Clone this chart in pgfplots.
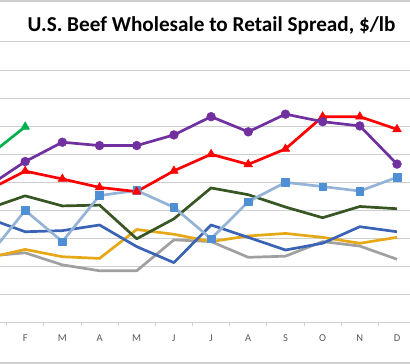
\documentclass[border=0pt]{standalone}
\usepackage{pgfplots}
\pgfplotsset{compat=1.18}
\usepackage{fontspec}
\setmainfont{Carlito}
\definecolor{cpurple}{HTML}{7030A0}
\definecolor{cred}{HTML}{FF0000}
\definecolor{cgreen}{HTML}{00B050}
\definecolor{cdkgreen}{HTML}{375623}
\definecolor{cltblue}{HTML}{95B3D7}
\definecolor{cltbluem}{HTML}{4F8FD6}
\definecolor{cblue}{HTML}{3B63B5}
\definecolor{cyellow}{HTML}{E6A817}
\definecolor{cgray}{HTML}{A0A0A0}
\definecolor{cgrid}{HTML}{CFCFCF}
\definecolor{ctick}{HTML}{595959}
\begin{document}
\begin{tikzpicture}
\path[use as bounding box] (0pt,0pt) rectangle (410pt,364pt);
\clip (0pt,0pt) rectangle (410pt,364pt);
\begin{axis}[
  at={(-30.6pt,41.3pt)}, anchor=south west,
  scale only axis, width=446.2pt, height=280.7pt,
  xmin=-0.5, xmax=11.5, ymin=0, ymax=10,
  separate axis lines,
  axis x line*=bottom, axis y line*=left,
  y axis line style={draw=none},
  x axis line style={draw=cgrid, line width=1pt},
  xtick={1,...,11},
  xticklabels={F,M,A,M,J,J,A,S,O,N,D},
  major x tick style={draw=none},
  minor xtick={-0.5,0.5,...,11.5},
  minor tick length=3pt,
  minor x tick style={draw=cgrid, line width=0.8pt},
  tick align=outside,
  xticklabel style={font=\fontsize{10.5}{12}\selectfont, text=ctick, yshift=-4pt},
  ytick={1,...,10}, yticklabels={},
  major y tick style={draw=none},
  ymajorgrids, grid style={draw=cgrid, line width=1pt},
  clip=false,
  every axis plot/.append style={line width=2.7pt, line join=round},
]
% gray
\addplot[cgray, no markers] coordinates {(0,2.37)(1,2.49)(2,2.06)(3,1.85)(4,1.85)(5,2.95)(6,2.89)(7,2.33)(8,2.37)(9,2.89)(10,2.73)(11,2.26)};
% yellow
\addplot[cyellow, no markers] coordinates {(0,2.31)(1,2.61)(2,2.35)(3,2.29)(4,3.32)(5,3.15)(6,2.89)(7,3.09)(8,3.18)(9,3.04)(10,2.83)(11,3.04)};
% blue
\addplot[cblue, no markers] coordinates {(0,3.72)(1,3.24)(2,3.28)(3,3.48)(4,2.71)(5,2.14)(6,3.48)(7,3.04)(8,2.59)(9,2.83)(10,3.42)(11,3.24)};
% dark green
\addplot[cdkgreen, no markers] coordinates {(0,4.06)(1,4.52)(2,4.16)(3,4.19)(4,2.99)(5,3.70)(6,4.80)(7,4.56)(8,4.12)(9,3.74)(10,4.14)(11,4.06)};
% light blue squares
\addplot[cltblue, mark=square*, mark size=3.8pt, mark options={fill=cltbluem, draw=cltbluem, line width=0.5pt}] coordinates {(0,2.35)(1,4.00)(2,2.89)(3,4.53)(4,4.71)(5,4.11)(6,2.99)(7,4.31)(8,5.00)(9,4.85)(10,4.69)(11,5.18)};
% red triangles
\addplot[cred, mark=triangle*, mark size=5pt, mark options={fill=cred, draw=cred, line width=0.5pt}] coordinates {(0,4.72)(1,5.40)(2,5.12)(3,4.82)(4,4.67)(5,5.41)(6,6.00)(7,5.64)(8,6.19)(9,7.34)(10,7.34)(11,6.89)};
% purple circles
\addplot[cpurple, mark=*, mark size=4.4pt, mark options={fill=cpurple, draw=cpurple, line width=0.5pt}] coordinates {(0,4.86)(1,5.74)(2,6.43)(3,6.31)(4,6.31)(5,6.69)(6,7.34)(7,6.80)(8,7.43)(9,7.16)(10,7.01)(11,5.65)};
% green triangles
\addplot[cgreen, mark=triangle*, mark size=5pt, mark options={fill=cgreen, draw=cgreen, line width=0.5pt}] coordinates {(0,5.93)(1,6.98)};
\end{axis}
\draw[cgrid, line width=1.2pt] (0pt,363pt) -- (410pt,363pt);
\draw[cgrid, line width=1.2pt] (0pt,1pt) -- (410pt,1pt);
\node[anchor=base, font=\bfseries\fontsize{21.2}{24}\selectfont] at (211.5pt,332.3pt) {U.S. Beef Wholesale to Retail Spread, \$/lb};
\end{tikzpicture}
\end{document}
